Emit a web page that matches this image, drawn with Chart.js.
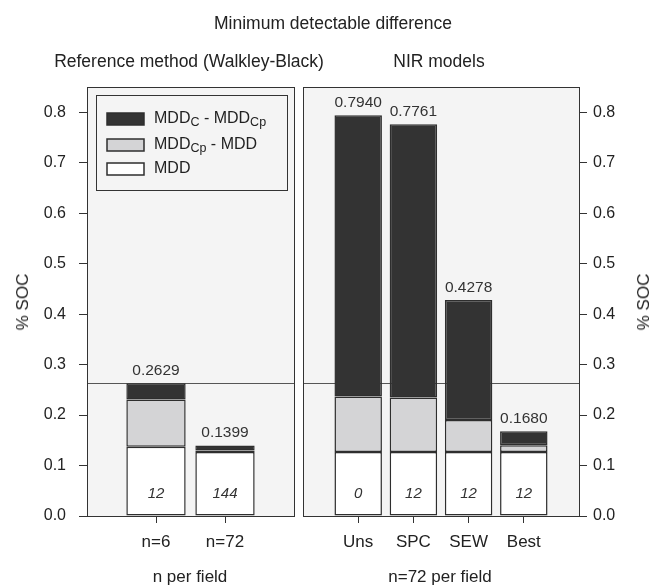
<!DOCTYPE html>
<html>
<head>
<meta charset="utf-8">
<script src="https://cdn.jsdelivr.net/npm/chart.js@4.4.1/dist/chart.umd.min.js"></script>
<style>
  body { margin: 0; background: #fff; font-family: "Liberation Sans", Arial, sans-serif; color: #222; }
  #wrap { position: relative; width: 654px; height: 585px; overflow: hidden; }
  #cvIzq { position: absolute; left: 0; top: 0; }
  #cvDer { position: absolute; left: 300px; top: 0; }
  .lbl { position: absolute; white-space: nowrap; transform: translate(-50%, -50%); font-size: 17px; color: #222; }
  .tit { font-size: 17.5px; }
  .rot { transform: translate(-50%, -50%) rotate(-90deg); }
</style>
</head>
<body>
<div id="wrap">
  <canvas id="cvIzq" width="300" height="585"></canvas>
  <canvas id="cvDer" width="354" height="585"></canvas>
  <div class="lbl tit" style="left:333px; top:23px;">Minimum detectable difference</div>
  <div class="lbl tit" style="left:189px; top:61px;">Reference method (Walkley-Black)</div>
  <div class="lbl tit" style="left:439px; top:61px;">NIR models</div>
  <div class="lbl" style="left:190px; top:577px;">n per field</div>
  <div class="lbl" style="left:440px; top:577px;">n=72 per field</div>
  <div class="lbl rot" style="left:23px; top:302px;">% SOC</div>
  <div class="lbl rot" style="left:644px; top:302px;">% SOC</div>
</div>
<script>
// ====================================================================
// DATOS
// ====================================================================

// Panel izquierdo: método de referencia (Walkley-Black)
const refCategorias = ['n=6', 'n=72'];
const refMdd = [0.137, 0.127];
const refCpMenosMdd = [0.094, 0.003];
const refCMenosCp = [0.032, 0.0099];
const refTotales = [0.2629, 0.1399];
const refConteos = ['12', '144'];

// Panel derecho: modelos NIR
const nirCategorias = ['Uns', 'SPC', 'SEW', 'Best'];
const nirMdd = [0.127, 0.127, 0.127, 0.127];
const nirCpMenosMdd = [0.110, 0.108, 0.063, 0.013];
const nirCMenosCp = [0.557, 0.5411, 0.2378, 0.028];
const nirTotales = [0.7940, 0.7761, 0.4278, 0.1680];
const nirConteos = ['0', '12', '12', '12'];

const lineaReferencia = 0.2629;
const yTicks = [0, 0.1, 0.2, 0.3, 0.4, 0.5, 0.6, 0.7, 0.8];

// Leyenda: partes de texto, 'sub' = subíndice
const leyendaTextos = [
    [['MDD', ''], ['C', 'sub'], [' - MDD', ''], ['Cp', 'sub']],
    [['MDD', ''], ['Cp', 'sub'], [' - MDD', '']],
    [['MDD', '']]
];

// ====================================================================
// ESTILOS
// ====================================================================
const COLOR_OSCURO = '#333333';
const COLOR_GRIS = '#d4d4d6';
const COLOR_BLANCO = '#ffffff';
const COLOR_FONDO = '#f4f4f4';
const COLOR_BORDE = '#2e2e2e';
const FUENTE = '"Liberation Sans", Arial, sans-serif';

Chart.defaults.font.family = FUENTE;
Chart.defaults.font.size = 16;
Chart.defaults.color = '#222';

function puntos(valores) {
    return valores.map((v, i) => ({ x: i + 1, y: v }));
}

function crearDatasets(mdd, cpMenosMdd, cMenosCp) {
    const base = { borderColor: COLOR_BORDE, borderWidth: 1.5, borderSkipped: false,
                   barPercentage: 0.86, categoryPercentage: 1 };
    return [
        Object.assign({ label: 'MDD', data: puntos(mdd), backgroundColor: COLOR_BLANCO }, base),
        Object.assign({ label: 'MDDCp - MDD', data: puntos(cpMenosMdd), backgroundColor: COLOR_GRIS }, base),
        Object.assign({ label: 'MDDC - MDDCp', data: puntos(cMenosCp), backgroundColor: COLOR_OSCURO }, base)
    ];
}

// Plugin del panel: fondo, caja, línea de referencia y etiquetas
function pluginPanel(totales, conteos) {
    return {
        id: 'panel',
        beforeDatasetsDraw(chart) {
            const { ctx, chartArea: a, scales: { y } } = chart;
            ctx.save();
            ctx.fillStyle = COLOR_FONDO;
            ctx.fillRect(a.left, a.top, a.right - a.left, a.bottom - a.top);
            const yRef = Math.round(y.getPixelForValue(lineaReferencia)) + 0.5;
            ctx.strokeStyle = '#555';
            ctx.lineWidth = 1;
            ctx.beginPath();
            ctx.moveTo(a.left, yRef);
            ctx.lineTo(a.right, yRef);
            ctx.stroke();
            ctx.restore();
        },
        afterDatasetsDraw(chart) {
            const { ctx, chartArea: a, scales: { x, y } } = chart;
            ctx.save();
            ctx.strokeStyle = '#333';
            ctx.lineWidth = 1;
            ctx.strokeRect(Math.round(a.left) + 0.5, Math.round(a.top) + 0.5,
                           Math.round(a.right - a.left), Math.round(a.bottom - a.top));
            ctx.textAlign = 'center';
            ctx.fillStyle = '#333';
            totales.forEach((t, i) => {
                ctx.font = '15.5px ' + FUENTE;
                ctx.textBaseline = 'bottom';
                ctx.fillText(t.toFixed(4), x.getPixelForValue(i + 1), y.getPixelForValue(t) - 5);
                ctx.font = 'italic 15px ' + FUENTE;
                ctx.textBaseline = 'middle';
                ctx.fillText(conteos[i], x.getPixelForValue(i + 1), y.getPixelForValue(0) - 22);
            });
            ctx.restore();
        }
    };
}

const pluginLeyenda = {
    id: 'leyenda',
    afterDraw(chart) {
        const ctx = chart.ctx;
        const colores = [COLOR_OSCURO, COLOR_GRIS, COLOR_BLANCO];
        const filasY = [119, 145, 169];
        ctx.save();
        ctx.fillStyle = COLOR_FONDO;
        ctx.fillRect(96.5, 95.5, 191, 95);
        ctx.strokeStyle = '#333';
        ctx.lineWidth = 1;
        ctx.strokeRect(96.5, 95.5, 191, 95);
        leyendaTextos.forEach((partes, i) => {
            const yc = filasY[i];
            ctx.fillStyle = colores[i];
            ctx.fillRect(107, yc - 6, 37, 12);
            ctx.strokeStyle = COLOR_BORDE;
            ctx.lineWidth = 1.5;
            ctx.strokeRect(107, yc - 6, 37, 12);
            let xt = 154;
            ctx.fillStyle = '#222';
            ctx.textBaseline = 'middle';
            ctx.textAlign = 'left';
            partes.forEach(([txt, tipo]) => {
                if (tipo === 'sub') {
                    ctx.font = '12.5px ' + FUENTE;
                    ctx.fillText(txt, xt, yc + 4);
                } else {
                    ctx.font = '16px ' + FUENTE;
                    ctx.fillText(txt, xt, yc);
                }
                xt += ctx.measureText(txt).width;
            });
        });
        ctx.restore();
    }
};

function crearPanel(canvasId, categorias, datasets, totales, conteos, cfg) {
    const ctx = document.getElementById(canvasId).getContext('2d');
    const plugins = [pluginPanel(totales, conteos)];
    if (cfg.leyenda) plugins.push(pluginLeyenda);
    return new Chart(ctx, {
        type: 'bar',
        data: { datasets: datasets },
        options: {
            responsive: false,
            animation: false,
            layout: { padding: cfg.padding },
            plugins: { legend: { display: false }, tooltip: { enabled: false } },
            scales: {
                x: {
                    type: 'linear',
                    min: 0,
                    max: categorias.length + 1,
                    offset: false,
                    stacked: true,
                    afterBuildTicks: s => { s.ticks = categorias.map((c, i) => ({ value: i + 1 })); },
                    afterFit: s => { s.height = 69; },
                    ticks: {
                        autoSkip: false,
                        maxRotation: 0,
                        padding: 9,
                        font: { size: 17 },
                        callback: v => categorias[v - 1]
                    },
                    grid: { offset: false, drawOnChartArea: false, drawTicks: true, tickLength: 7, color: '#333' },
                    border: { color: '#333' }
                },
                y: {
                    position: cfg.posY,
                    min: 0,
                    max: 0.85,
                    stacked: true,
                    afterBuildTicks: s => { s.ticks = yTicks.map(v => ({ value: v })); },
                    afterFit: s => { s.width = cfg.anchoY; },
                    ticks: {
                        padding: cfg.padTicks,
                        callback: v => v.toFixed(1)
                    },
                    grid: { drawOnChartArea: false, drawTicks: true, tickLength: 8, color: '#333' },
                    border: { color: '#333' }
                }
            }
        },
        plugins: plugins
    });
}

window.chartReferencia = crearPanel('cvIzq', refCategorias,
    crearDatasets(refMdd, refCpMenosMdd, refCMenosCp), refTotales, refConteos,
    { padding: { top: 87, right: 6, left: 0, bottom: 0 }, posY: 'left', anchoY: 87, padTicks: 13, leyenda: true });

window.chartNir = crearPanel('cvDer', nirCategorias,
    crearDatasets(nirMdd, nirCpMenosMdd, nirCMenosCp), nirTotales, nirConteos,
    { padding: { top: 87, right: 0, left: 3, bottom: 0 }, posY: 'right', anchoY: 75, padTicks: 6, leyenda: false });
</script>
</body>
</html>
